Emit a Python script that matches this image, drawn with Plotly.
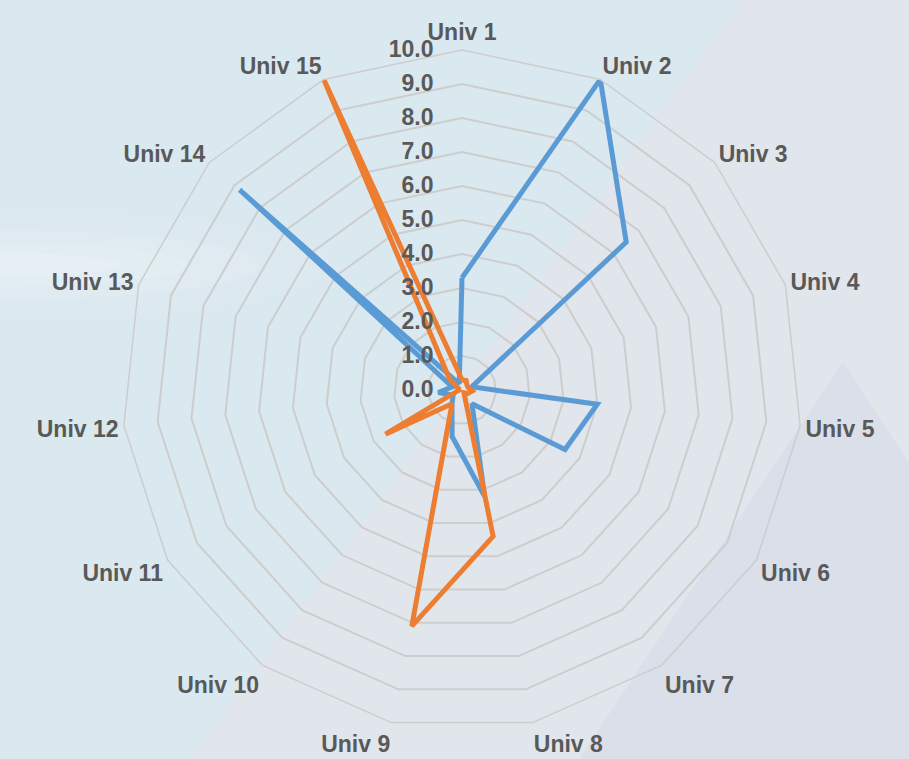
import plotly.graph_objects as go

categories = [f"Univ {i}" for i in range(1, 16)]
series1 = [3.3, 10.0, 6.5, 0.3, 4.0, 3.5, 0.5, 3.2, 1.4, 0.5, 0.3, 0.7, 0.3, 8.8, 0.2]
series2 = [0.3, 0.3, 0.2, 0.2, 0.3, 0.2, 0.1, 4.4, 7.1, 0.5, 2.6, 0.1, 0.1, 0.5, 10.0]
series_names = ["Series1", "Series2"]
radial_ticks = [0, 1, 2, 3, 4, 5, 6, 7, 8, 9, 10]

W, H = 909, 759
cx, cy, R = 462, 390, 340

fig = go.Figure()
for name, vals, col in [(series_names[0], series1, "#5b9bd5"), (series_names[1], series2, "#ed7d31")]:
    fig.add_trace(go.Scatterpolar(
        r=vals + vals[:1], theta=categories + categories[:1], mode="lines", name=name,
        line=dict(color=col, width=5), showlegend=False, hoverinfo="skip"))

def P(x, y):
    return f"{x / W:.4f},{1 - y / H:.4f}"

shapes = [
    # left bluish region
    dict(type="path", xref="paper", yref="paper",
         path=f"M {P(0,0)} L {P(742,0)} L {P(190,759)} L {P(0,759)} Z",
         fillcolor="#dae8ef", line_width=0, layer="below"),
    # triangle at bottom right
    dict(type="path", xref="paper", yref="paper",
         path=f"M {P(843,362)} L {P(909,463)} L {P(909,759)} L {P(579,759)} Z",
         fillcolor="rgba(200,205,222,0.22)", line_width=0, layer="below"),
]
# soft bright glow on the left
for (x1, h, a) in [(330, 110, 0.08), (260, 70, 0.10), (190, 44, 0.12), (120, 24, 0.14)]:
    shapes.append(dict(type="circle", xref="paper", yref="paper",
                       x0=-x1 / W, x1=x1 / W, y0=1 - (265 + h / 2) / H, y1=1 - (265 - h / 2) / H,
                       fillcolor=f"rgba(255,255,255,{a})", line_width=0, layer="below"))

fig.update_layout(
    width=W, height=H, margin=dict(l=0, r=0, t=0, b=0),
    paper_bgcolor="#e1e5ec", plot_bgcolor="rgba(0,0,0,0)",
    shapes=shapes,
    polar=dict(
        domain=dict(x=[(cx - R) / W, (cx + R) / W], y=[1 - (cy + R) / H, 1 - (cy - R) / H]),
        bgcolor="rgba(0,0,0,0)",
        gridshape="linear",
        radialaxis=dict(range=[0, 10], tickvals=radial_ticks,
                        ticktext=[f"<b>{v:.1f}</b>" for v in radial_ticks],
                        angle=90, tickangle=90, side="counterclockwise",
                        showline=False, gridcolor="#cdcdcd", gridwidth=1.5,
                        ticks="outside", ticklen=20, tickcolor="rgba(0,0,0,0)",
                        tickfont=dict(family="Liberation Sans", size=23, color="#595959")),
        angularaxis=dict(direction="clockwise", rotation=90, showgrid=False,
                         tickvals=categories, ticktext=[f"<b>{c}</b>" for c in categories],
                         linecolor="#cdcdcd", linewidth=1.5, ticks="",
                         tickfont=dict(family="Liberation Sans", size=23, color="#595959")),
    ),
    font=dict(family="Liberation Sans"),
)
fig.write_html("out.html")
